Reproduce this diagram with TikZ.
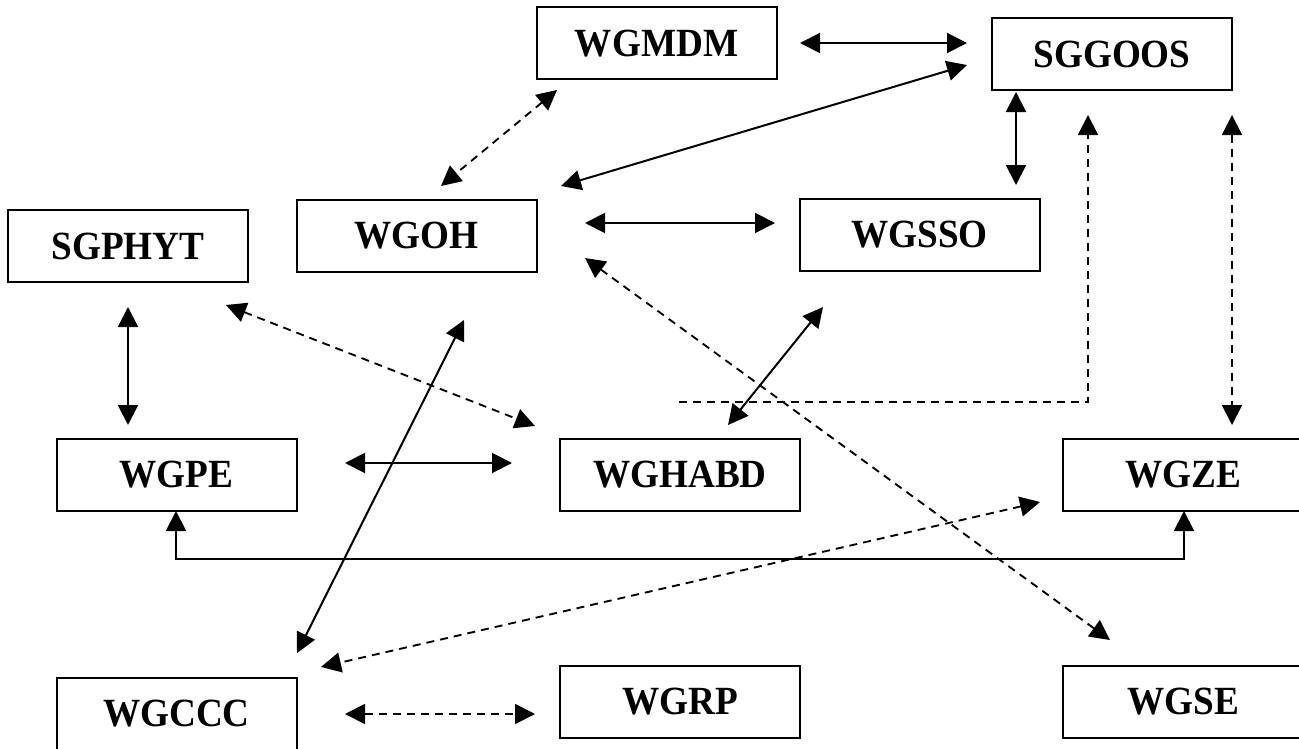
\documentclass[tikz,border=0pt]{standalone}
\usepackage{fontspec}
\usepackage{graphicx}
\setmainfont{Liberation Serif}
\usetikzlibrary{arrows.meta}
\newcommand\boxlbl[1]{\scalebox{0.93}[1]{#1}}
\begin{document}
\begin{tikzpicture}[x=0.75pt,y=-0.75pt,
  box/.style={draw,line width=1.5pt,minimum width=180pt,minimum height=54pt,inner sep=0pt,
    font=\fontsize{30}{36}\selectfont\bfseries},
  link/.style={line width=1.5pt,{Triangle[length=15pt,width=15pt]}-{Triangle[length=15pt,width=15pt]}},
  dlink/.style={link,line width=1.4pt,dash pattern=on 6pt off 4.5pt},
  oneway/.style={line width=1.4pt,dash pattern=on 6pt off 4.5pt,-{Triangle[length=15pt,width=15pt]}},
  elbow/.style={line width=1.5pt,{Triangle[length=15pt,width=15pt]}-{Triangle[length=15pt,width=15pt]}}]
\useasboundingbox[fill=white] (0,0) rectangle (1299,749);
% boxes
\node[box] (wgmdm)  at (656.5,43.5) {\boxlbl{WGMDM}};
\node[box] (sggoos) at (1112,54)    {\boxlbl{SGGOOS}};
\node[box] (sgphyt) at (128,246)    {\boxlbl{SGPHYT}};
\node[box] (wgoh)   at (416.5,235.5){\boxlbl{WGOH}};
\node[box] (wgsso)  at (919.5,235)  {\boxlbl{WGSSO}};
\node[box] (wgpe)   at (176.5,475)  {\boxlbl{WGPE}};
\node[box] (wghabd) at (680,475)    {\boxlbl{WGHABD}};
\node[box] (wgze)   at (1183,475)   {\boxlbl{WGZE}};
\node[box] (wgccc)  at (176.5,714)  {\boxlbl{WGCCC}};
\node[box] (wgrp)   at (680,702)    {\boxlbl{WGRP}};
\node[box] (wgse)   at (1183,702)   {\boxlbl{WGSE}};
% connector end points
\coordinate (mdmE) at (800,43);   \coordinate (ggW) at (967,43);
\coordinate (ggSW) at (967,65);   \coordinate (ohNE) at (561,186);
\coordinate (mdmS) at (557,90);   \coordinate (ohN) at (441,186);
\coordinate (ggS) at (1016,92);   \coordinate (ssoN) at (1016,185);
\coordinate (ohE) at (585,223);   \coordinate (ssoW) at (775,223);
\coordinate (dStart) at (679,402); \coordinate (dCorner) at (1088,402); \coordinate (ggS2) at (1088,115);
\coordinate (ggS3) at (1232,115); \coordinate (zeN) at (1232,425);
\coordinate (phyS) at (128,307);  \coordinate (peN) at (128,425);
\coordinate (phySE) at (226,305); \coordinate (habNW) at (535,426);
\coordinate (ohS) at (464,320);   \coordinate (cccNE) at (297,653);
\coordinate (ssoS) at (823,307);  \coordinate (habN) at (728,425);
\coordinate (ohSE) at (585,258);  \coordinate (seN) at (1110,640);
\coordinate (peE) at (345,463);   \coordinate (habW) at (512,463);
\coordinate (peS) at (176,511);   \coordinate (zeS) at (1184,511);
\coordinate (zeSW) at (1040,502); \coordinate (cccNE2) at (321,667);
\coordinate (cccE) at (345,714);  \coordinate (rpW) at (535,714);
% connectors
\draw[link]  (mdmE) -- (ggW);
\draw[link]  (ggSW) -- (ohNE);
\draw[dlink] (mdmS) -- (ohN);
\draw[link]  (ggS) -- (ssoN);
\draw[link]  (ohE) -- (ssoW);
\draw[oneway] (dStart) -- (dCorner) -- (ggS2);
\draw[dlink] (ggS3) -- (zeN);
\draw[link]  (phyS) -- (peN);
\draw[dlink] (phySE) -- (habNW);
\draw[link]  (ohS) -- (cccNE);
\draw[link]  (ssoS) -- (habN);
\draw[dlink] (ohSE) -- (seN);
\draw[link]  (peE) -- (habW);
\draw[elbow] (peS) -- (176,559) -| (zeS);
\draw[dlink] (zeSW) -- (cccNE2);
\draw[dlink] (cccE) -- (rpW);
\end{tikzpicture}
\end{document}
